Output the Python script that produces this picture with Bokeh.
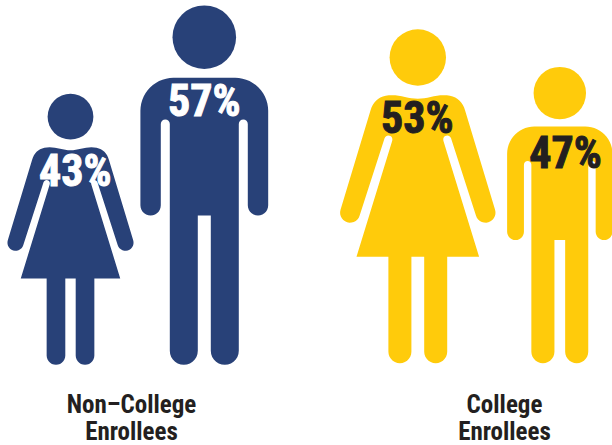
import math
from bokeh.plotting import figure
from bokeh.models import Range1d
from bokeh.core.properties import value
from bokeh.embed import file_html
from bokeh.resources import INLINE

# Data
groups = ["Non-College Enrollees", "Non-College Enrollees", "College Enrollees", "College Enrollees"]
figures = ["woman", "man", "woman", "man"]
percent = [43, 57, 53, 47]
percent_labels = ["43%", "57%", "53%", "47%"]
group_labels = [["Non\u2013College", "Enrollees"], ["College", "Enrollees"]]

# Layout (page pixels)
centers = [70.0, 203.8, 417.3, 559.3]
feet = [364.3, 364.3, 362.7, 362.7]
label_xy = [(74.7, 170), (203.7, 100), (416.7, 117.7), (565, 152.7)]
group_xy = [(131, 404, 431), (504, 404, 431)]
BLUE, YELLOW, DARK = "#284178", "#FFCB0B", "#231F20"
fills = [BLUE, BLUE, YELLOW, YELLOW]
text_colors = ["white", "white", DARK, DARK]
PX_PER_POINT = 6.303


def arc(cx, cy, r, a0, a1, n=14):
    return [(cx + r * math.cos(math.radians(a0 + (a1 - a0) * i / n)),
             cy + r * math.sin(math.radians(a0 + (a1 - a0) * i / n))) for i in range(n + 1)]


def mirror(half):
    return half + [(-x, y) for x, y in reversed(half)]


def man_outline():
    h = []
    h += arc(30.9, 254.0, 33.0, 90, 0)
    h += arc(53.7, 159.5, 10.2, 0, -180)
    h += arc(39.0, 240.8, 4.5, 0, 180, 8)
    h += arc(20.5, 14.0, 14.0, 0, -180)
    h += [(6.5, 149.3), (0, 149.3)]
    return mirror(h), (0, 327.6, 31.8), 359.3


def woman_outline():
    h = []
    for i in range(9):
        t = i / 8
        h.append((25.7 * t, 264.4 + 3.6 * (1 - math.cos(math.pi * t)) / 2))
    for i in range(1, 11):
        t = i / 10
        h.append(((1 - t) ** 2 * 25.7 + 2 * t * (1 - t) * 43 + t * t * 47.3,
                  (1 - t) ** 2 * 268 + 2 * t * (1 - t) * 268 + t * t * 252.7))
    h += arc(67.7, 150.5, 10.0, 17, -163)
    h += arc(29.4, 223.7, 4.0, 17, 197, 8)
    h += [(61.3, 106.4), (29.4, 106.4)]
    h += arc(17.9, 11.5, 11.5, 0, -180)
    h += [(6.4, 106.4), (0, 106.4)]
    return mirror(h), (0, 305.7, 28.2), 334.0


templates = {"man": man_outline(), "woman": woman_outline()}

p = figure(width=612, height=445, x_range=Range1d(0, 612), y_range=Range1d(445, 0),
           output_backend="svg", toolbar_location=None, min_border=0,
           background_fill_color="white", border_fill_color="white", outline_line_color=None)
p.axis.visible = False
p.grid.visible = False
p.styles = {"position": "absolute", "left": "0px", "top": "0px"}

font = value("'Roboto Condensed', Roboto")
for kind, pct, cx, foot, color in zip(figures, percent, centers, feet, fills):
    outline, head, base_height = templates[kind]
    s = pct * PX_PER_POINT / base_height
    p.patch([cx + x * s for x, _ in outline], [foot - y * s for _, y in outline],
            fill_color=color, line_color=None)
    p.circle(x=[cx], y=[foot - head[1] * s], radius=head[2] * s, fill_color=color, line_color=None)

for lab, (x, y), c in zip(percent_labels, label_xy, text_colors):
    p.text(x=[x], y=[y], text=[lab], text_color=c, text_font=font, text_font_style="bold",
           text_font_size="44px", text_align="center", text_baseline="middle",
           text_outline_color=c)

for lines, (x, y1, y2) in zip(group_labels, group_xy):
    for line, y in zip(lines, (y1, y2)):
        p.text(x=[x], y=[y], text=[line], text_color=DARK, text_font=font, text_font_style="bold",
               text_font_size="25px", text_align="center", text_baseline="middle")

open("out.html", "w").write(file_html(p, INLINE))
